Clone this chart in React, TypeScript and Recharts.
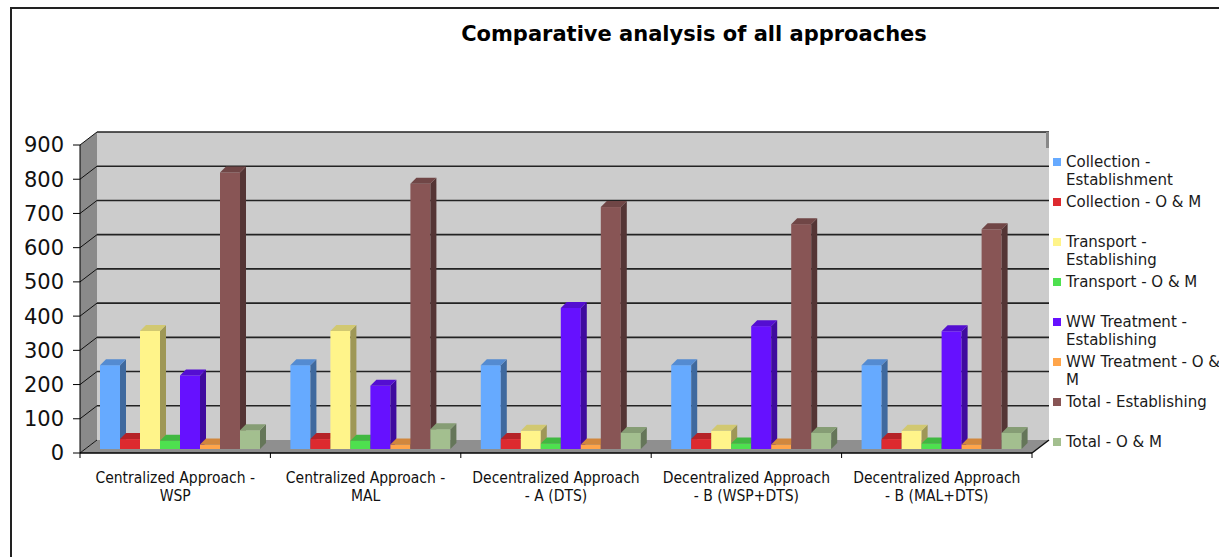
import { BarChart, Bar, XAxis, YAxis, ReferenceArea, Legend } from 'recharts';

// categories (two text lines each, as they wrap under the axis)
const approaches = [
  'Centralized Approach - WSP',
  'Centralized Approach - MAL',
  'Decentralized Approach - A (DTS)',
  'Decentralized Approach - B (WSP+DTS)',
  'Decentralized Approach - B (MAL+DTS)',
];
const approachLines = [
  ['Centralized Approach -', 'WSP'],
  ['Centralized Approach -', 'MAL'],
  ['Decentralized Approach', '- A (DTS)'],
  ['Decentralized Approach', '- B (WSP+DTS)'],
  ['Decentralized Approach', '- B (MAL+DTS)'],
];

// series values
const collectionEst = [245, 245, 245, 245, 245];
const collectionOM = [29, 29, 29, 29, 29];
const transportEst = [345, 345, 53, 53, 53];
const transportOM = [24, 24, 16, 16, 16];
const wwTreatmentEst = [215, 185, 412, 359, 344];
const wwTreatmentOM = [13, 13, 13, 13, 13];
const totalEst = [808, 775, 707, 657, 642];
const totalOM = [55, 58, 47, 47, 47];

const yTicks = [0, 100, 200, 300, 400, 500, 600, 700, 800, 900];

const series = [
  { key: 'collectionEst', name: 'Collection -\nEstablishment', color: '#66aaff', values: collectionEst },
  { key: 'collectionOM', name: 'Collection - O & M', color: '#dd2a2f', values: collectionOM },
  { key: 'transportEst', name: 'Transport -\nEstablishing', color: '#fff48a', values: transportEst },
  { key: 'transportOM', name: 'Transport - O & M', color: '#4ee04f', values: transportOM },
  { key: 'wwTreatmentEst', name: 'WW Treatment -\nEstablishing', color: '#6611ff', values: wwTreatmentEst },
  { key: 'wwTreatmentOM', name: 'WW Treatment - O &\nM', color: '#ffa54a', values: wwTreatmentOM },
  { key: 'totalEst', name: 'Total - Establishing', color: '#885555', values: totalEst },
  { key: 'totalOM', name: 'Total - O & M', color: '#a3bf8f', values: totalOM },
];

const data = approaches.map((approach, i) => {
  const row: Record<string, any> = { approach };
  series.forEach(s => {
    row[s.key] = s.values[i];
  });
  return row;
});

// 3D look
const DEPTH_X = 17;
const DEPTH_Y = 13;
const BAR_SHIFT_X = 5;
const BAR_SHIFT_Y = -4;
const BAR_DEPTH = 6;

function shade(hex: string, f: number) {
  const n = parseInt(hex.slice(1), 16);
  const r = Math.round(((n >> 16) & 255) * f);
  const g = Math.round(((n >> 8) & 255) * f);
  const b = Math.round((n & 255) * f);
  return `rgb(${r},${g},${b})`;
}

const Bar3D = (props: any) => {
  const { x, y, width, height, fill } = props;
  if (height == null || width == null) return null;
  const fx = x + BAR_SHIFT_X;
  const fy = y + BAR_SHIFT_Y;
  const d = BAR_DEPTH;
  return (
    <g>
      <rect x={fx} y={fy} width={width} height={height} fill={fill} />
      <polygon
        points={`${fx + width},${fy} ${fx + width + d},${fy - d} ${fx + width + d},${fy + height - d} ${fx + width},${fy + height}`}
        fill={shade(fill, 0.62)}
      />
      <polygon
        points={`${fx},${fy} ${fx + d},${fy - d} ${fx + width + d},${fy - d} ${fx + width},${fy}`}
        fill={shade(fill, 0.82)}
      />
    </g>
  );
};

// walls, floor and gridlines drawn from the plot area recharts hands over
const Walls = (props: any) => {
  const { x, y, width, height } = props;
  const bx = x + DEPTH_X;
  const by = y - DEPTH_Y;
  const yOf = (v: number) => y + height * (1 - v / 900);
  const bands = approaches.length;
  return (
    <g>
      <rect x={bx} y={by} width={width} height={height} fill="#cccccc" />
      <polygon
        points={`${x},${y} ${bx},${by} ${bx},${by + height} ${x},${y + height}`}
        fill="#8a8a8a"
      />
      <polygon
        points={`${x},${y + height} ${bx},${by + height} ${bx + width},${by + height} ${x + width},${y + height}`}
        fill="#8f8f8f"
      />
      {yTicks.map(v => (
        <g key={v}>
          <line x1={x} y1={yOf(v)} x2={bx} y2={yOf(v) - DEPTH_Y} stroke="#111" strokeWidth={1} />
          {v > 0 && (
            <line x1={bx} y1={yOf(v) - DEPTH_Y} x2={bx + width} y2={yOf(v) - DEPTH_Y} stroke="#222" strokeWidth={1.6} />
          )}
        </g>
      ))}
      <line x1={bx + width} y1={by + height} x2={x + width} y2={y + height} stroke="#111" strokeWidth={1.5} />
      <rect x={bx + width - 3} y={by} width={3} height={16} fill="#888" />
      {Array.from({ length: bands + 1 }).map((_, i) => (
        <line
          key={i}
          x1={x + (i * width) / bands}
          y1={y + height}
          x2={x + (i * width) / bands}
          y2={y + height + 5}
          stroke="#000"
        />
      ))}
    </g>
  );
};

const CategoryTick = (props: any) => {
  const { x, y, index } = props;
  const lines = approachLines[index] || [];
  return (
    <text
      x={x}
      y={y}
      textAnchor="middle"
      fontFamily="'DejaVu Sans Condensed', 'Liberation Sans Narrow', 'DejaVu Sans', sans-serif"
      fontSize={15.5}
      fill="#111"
    >
      {lines.map((line, i) => (
        <tspan key={i} x={x} dy={i === 0 ? 22 : 18}>
          {line}
        </tspan>
      ))}
    </text>
  );
};

const seriesOrder = series.map(s => s.key);

const LegendList = ({ payload }: any) => {
  const items = [...(payload || [])].sort(
    (a: any, b: any) => seriesOrder.indexOf(a.dataKey) - seriesOrder.indexOf(b.dataKey)
  );
  return (
    <div style={{ fontFamily: "'DejaVu Sans', Verdana, sans-serif", fontSize: 15, color: '#1a1a1a' }}>
      {items.map((entry: any, i: number) => (
        <div key={`item-${i}`} style={{ height: 40, display: 'flex', alignItems: 'flex-start' }}>
          <div style={{ width: 8, height: 8, marginTop: 5, marginRight: 5, backgroundColor: entry.color, flexShrink: 0 }} />
          <div style={{ whiteSpace: 'pre', lineHeight: '18px' }}>{entry.value}</div>
        </div>
      ))}
    </div>
  );
};

export default function App() {
  return (
    <div style={{ position: 'relative', width: 1219, height: 557, overflow: 'hidden', background: '#fff' }}>
      <style>{`body { margin: 0; }`}</style>
      <div
        style={{
          position: 'absolute',
          left: 10,
          top: 7,
          width: 1300,
          height: 700,
          borderLeft: '2px solid #222',
          borderTop: '2px solid #222',
        }}
      />
      <div
        style={{
          position: 'absolute',
          left: 394,
          top: 22,
          width: 600,
          textAlign: 'center',
          fontFamily: "'DejaVu Sans', Verdana, sans-serif",
          fontWeight: 'bold',
          fontSize: 21,
          lineHeight: '24px',
          color: '#000',
        }}
      >
        Comparative analysis of all approaches
      </div>
      <div style={{ position: 'absolute', left: 0, top: 0 }}>
        <BarChart
          width={1219}
          height={557}
          data={data}
          margin={{ top: 145, right: 187, bottom: 0, left: 0 }}
          barGap={0}
          barSize={20}
        >
          <ReferenceArea y1={0} y2={900} shape={<Walls />} fillOpacity={1} />
          <XAxis
            dataKey="approach"
            interval={0}
            height={104}
            tickLine={false}
            axisLine={{ stroke: '#000', strokeWidth: 1.5 }}
            tick={<CategoryTick />}
          />
          <YAxis
            width={80}
            domain={[0, 900]}
            ticks={yTicks}
            tickSize={7}
            tickMargin={9}
            axisLine={{ stroke: '#000' }}
            tickLine={{ stroke: '#000' }}
            tick={{ fontSize: 21, fill: '#111', fontFamily: "'DejaVu Sans', Verdana, sans-serif" }}
          />
          <Legend
            layout="vertical"
            align="center"
            verticalAlign="middle"
            itemSorter={null as any}
            wrapperStyle={{ left: 1053, top: 153, width: 166 }}
            content={<LegendList />}
          />
          {series.map(s => (
            <Bar
              key={s.key}
              dataKey={s.key}
              name={s.name}
              fill={s.color}
              shape={<Bar3D />}
              isAnimationActive={false}
            />
          ))}
        </BarChart>
      </div>
    </div>
  );
}
